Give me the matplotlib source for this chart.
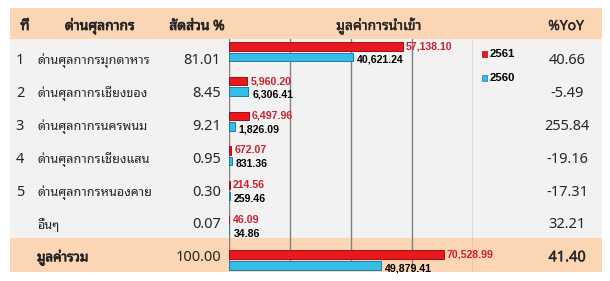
import matplotlib
matplotlib.use("Agg")
import matplotlib.pyplot as plt
from matplotlib.patches import Rectangle
import matplotlib.patheffects as pe
import numpy as np

# ---------------- data ----------------
row_nums = ["1", "2", "3", "4", "5", "", ""]
checkpoints = ["ด่านศุลกากรมุกดาหาร", "ด่านศุลกากรเชียงของ", "ด่านศุลกากรนครพนม",
               "ด่านศุลกากรเชียงแสน", "ด่านศุลกากรหนองคาย", "อื่นๆ", "มูลค่ารวม"]
share_pct = ["81.01", "8.45", "9.21", "0.95", "0.30", "0.07", "100.00"]
value_2561 = [57138.10, 5960.20, 6497.96, 672.07, 214.56, 46.09, 70528.99]
value_2560 = [40621.24, 6306.41, 1826.09, 831.36, 259.46, 34.86, 49879.41]
yoy_pct = ["40.66", "-5.49", "255.84", "-19.16", "-17.31", "32.21", "41.40"]
headers = ["ที่", "ด่านศุลกากร", "สัดส่วน %", "มูลค่าการนำเข้า", "%YoY"]
series_names = ["2561", "2560"]

# ---------------- style ----------------
W, H = 610, 281
THAI = ["Noto Sans Thai Looped", "Liberation Sans", "DejaVu Sans"]
PEACH = "#FCD5B4"
BODY = "#F2F2F2"
RED = "#E8191E"
RED_EDGE = "#A50E12"
BLUE = "#35BDE8"
BLUE_EDGE = "#1B7FA6"
RED_TXT = "#C9202E"
TXT = "#262626"
GRID = "#808080"
FS_NUM = 10.5
FS_NAME = 9.1
BOLD = [pe.withStroke(linewidth=0.55, foreground=TXT)]
SEMI = [pe.withStroke(linewidth=0.3, foreground=TXT)]

fig = plt.figure(figsize=(W / 100, H / 100), dpi=100)
fig.patch.set_facecolor("white")


def fx(x):
    return x / W


def fy(y):
    return 1 - y / H


def band(x0, y0, x1, y1, color):
    fig.patches.append(Rectangle((fx(x0), fy(y1)), fx(x1) - fx(x0), fy(y0) - fy(y1),
                                 transform=fig.transFigure, facecolor=color,
                                 edgecolor="none", zorder=-5))


band(10, 8.3, 602, 39.3, PEACH)
band(10, 39.3, 602, 238.3, BODY)
band(10, 238.3, 602, 271.5, PEACH)

# header texts
hb = fy(30)
for x, t, eff in [(25, headers[0], BOLD), (100, headers[1], BOLD), (197, headers[2], BOLD),
                  (379, headers[3], SEMI), (566, headers[4], SEMI)]:
    fig.text(fx(x), hb, t, family=THAI, fontsize=10, path_effects=eff,
             ha="center", va="baseline", color=TXT)

# table rows
row_center0, row_step = 59, 32.8
for i in range(len(checkpoints)):
    yc = row_center0 + i * row_step
    base = fy(yc + 5.5)
    total = (i == len(checkpoints) - 1)
    fig.text(fx(20), base, row_nums[i], family=THAI, fontsize=FS_NUM, ha="center",
             va="baseline", color=TXT)
    fig.text(fx(37), base, checkpoints[i], family=THAI,
             fontsize=FS_NAME + (0.5 if total else 0),
             path_effects=BOLD if total else None,
             ha="left", va="baseline", color=TXT)
    fig.text(fx(221), base, share_pct[i], family=THAI, fontsize=FS_NUM, ha="right",
             va="baseline", color=TXT)
    fig.text(fx(567), base, yoy_pct[i], family=THAI, fontsize=FS_NUM,
             path_effects=SEMI if total else None, ha="center",
             va="baseline", color=TXT)

# ---------------- bar chart ----------------
ax_left, ax_right, ax_top, ax_bot = 229.3, 472.7, 39.3, 271.0
ax = fig.add_axes([fx(ax_left), fy(ax_bot), fx(ax_right) - fx(ax_left),
                   (ax_bot - ax_top) / H])
ax.patch.set_alpha(0)
unit = 34.73
first = 51.65
ax.set_ylim((ax_bot - first) / unit, (ax_top - first) / unit)
ax.set_xlim(0, 80000)
ax.set_xticks([0, 20000, 40000, 60000, 80000])
ax.tick_params(length=0, labelbottom=False, labelleft=False)
ax.set_yticks([])
ax.grid(axis="x", color=GRID, linewidth=1.0)
ax.set_axisbelow(True)
for s in ax.spines.values():
    s.set_visible(False)

ypos = np.arange(len(checkpoints))
off, bh = 0.154, 0.245
ax.barh(ypos - off, value_2561, height=bh, color=RED, edgecolor=RED_EDGE,
        linewidth=0.7, zorder=3, clip_on=False)
ax.barh(ypos + off, value_2560, height=bh, color=BLUE, edgecolor=BLUE_EDGE,
        linewidth=0.7, zorder=3, clip_on=False)

for i in range(len(checkpoints)):
    ax.annotate(f"{value_2561[i]:,.2f}", (value_2561[i], ypos[i] - off),
                xytext=(3, 0), textcoords="offset pixels", ha="left", va="center",
                fontsize=7.6, fontweight="bold", family="Liberation Sans",
                color=RED_TXT, annotation_clip=False, zorder=5)
    ax.annotate(f"{value_2560[i]:,.2f}", (value_2560[i], ypos[i] + off),
                xytext=(4, -3), textcoords="offset pixels", ha="left", va="center",
                fontsize=7.6, fontweight="bold", family="Liberation Sans",
                color="black", annotation_clip=False, zorder=5)

# legend
for k, (name, c, ec) in enumerate(zip(series_names, [RED, BLUE], [RED_EDGE, BLUE_EDGE])):
    ly = 54 + 24 * k
    fig.patches.append(Rectangle((fx(482), fy(ly + 2.6)), fx(5.5), 5.2 / H,
                                 transform=fig.transFigure, facecolor=c,
                                 edgecolor=ec, linewidth=0.5))
    fig.text(fx(490), fy(ly), name, family="Liberation Sans", fontsize=8.2,
             fontweight="bold", ha="left", va="center", color="black")

fig.savefig("out.png", dpi=100)
